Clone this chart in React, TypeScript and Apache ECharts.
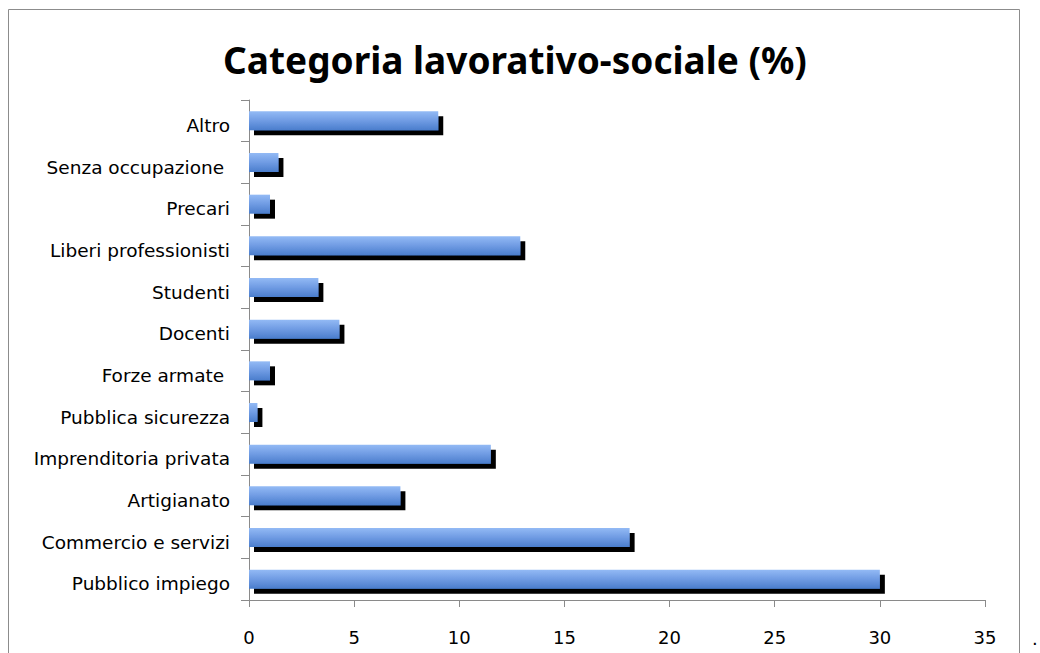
import React, { useEffect, useRef } from "react";
import * as echarts from "echarts";

const categories = [
  "Pubblico impiego",
  "Commercio e servizi",
  "Artigianato",
  "Imprenditoria privata",
  "Pubblica sicurezza",
  "Forze armate ",
  "Docenti",
  "Studenti",
  "Liberi professionisti",
  "Precari",
  "Senza occupazione ",
  "Altro",
];
const values = [30.0, 18.1, 7.2, 11.5, 0.4, 1.0, 4.3, 3.3, 12.9, 1.0, 1.4, 9.0];
const xTicks = { min: 0, max: 35, interval: 5 };
const titleText = "Categoria lavorativo-sociale (%)";

export default function App() {
  const ref = useRef<HTMLDivElement>(null);
  useEffect(() => {
    if (!ref.current) return;
    const chart = echarts.init(ref.current, undefined, { renderer: "svg" });
    const axisGray = "#8a8a8a";
    chart.setOption({
      animation: false,
      backgroundColor: "#ffffff",
      grid: { left: 249, top: 100, right: 55, bottom: 53, containLabel: false },
      xAxis: {
        type: "value",
        min: xTicks.min,
        max: xTicks.max,
        interval: xTicks.interval,
        axisLine: { show: true, lineStyle: { color: axisGray, width: 1 } },
        axisTick: { show: true, length: 7, inside: false, lineStyle: { color: axisGray } },
        splitLine: { show: false },
        axisLabel: {
          margin: 28,
          color: "#000",
          fontSize: 18,
          fontFamily: "DejaVu Sans",
        },
      },
      yAxis: {
        type: "category",
        data: categories,
        axisLine: { show: true, lineStyle: { color: axisGray, width: 1 } },
        axisTick: { show: true, length: 8, lineStyle: { color: axisGray } },
        axisLabel: {
          margin: 19,
          color: "#000",
          fontSize: 18.5,
          fontFamily: "DejaVu Sans",
          formatter: (v: string) => `{a|${v}}`,
          rich: {
            a: {
              fontSize: 18.5,
              fontFamily: "DejaVu Sans",
              color: "#000",
              padding: [9, 0, 0, 0],
            },
          },
        },
      },
      series: [
        {
          type: "bar",
          data: values,
          barWidth: 19,
          itemStyle: {
            color: new echarts.graphic.LinearGradient(0, 0, 0, 1, [
              { offset: 0, color: "#93baf5" },
              { offset: 0.5, color: "#6f9be3" },
              { offset: 1, color: "#4a7dcc" },
            ]),
            shadowColor: "#000000",
            shadowBlur: 0.01,
            shadowOffsetX: 5,
            shadowOffsetY: 5,
          },
        },
      ],
      graphic: [
        {
          type: "rect",
          shape: { x: 8.5, y: 9.5, width: 1011, height: 700 },
          style: { fill: "none", stroke: "#8c8c8c", lineWidth: 1 },
          silent: true,
        },
        {
          type: "text",
          x: 515,
          y: 59,
          style: {
            text: titleText,
            fontSize: 37,
            fontWeight: "bold",
            fontFamily: "Noto Sans",
            fill: "#000",
            textAlign: "center",
            textVerticalAlign: "middle",
          },
        },
        {
          type: "text",
          x: 1032,
          y: 629,
          style: { text: ".", fontSize: 18, fill: "#000", fontFamily: "DejaVu Sans" },
        },
      ],
    });
    return () => chart.dispose();
  }, []);
  return <div ref={ref} style={{ width: 1040, height: 653, position: "absolute", left: 0, top: 0 }} />;
}
